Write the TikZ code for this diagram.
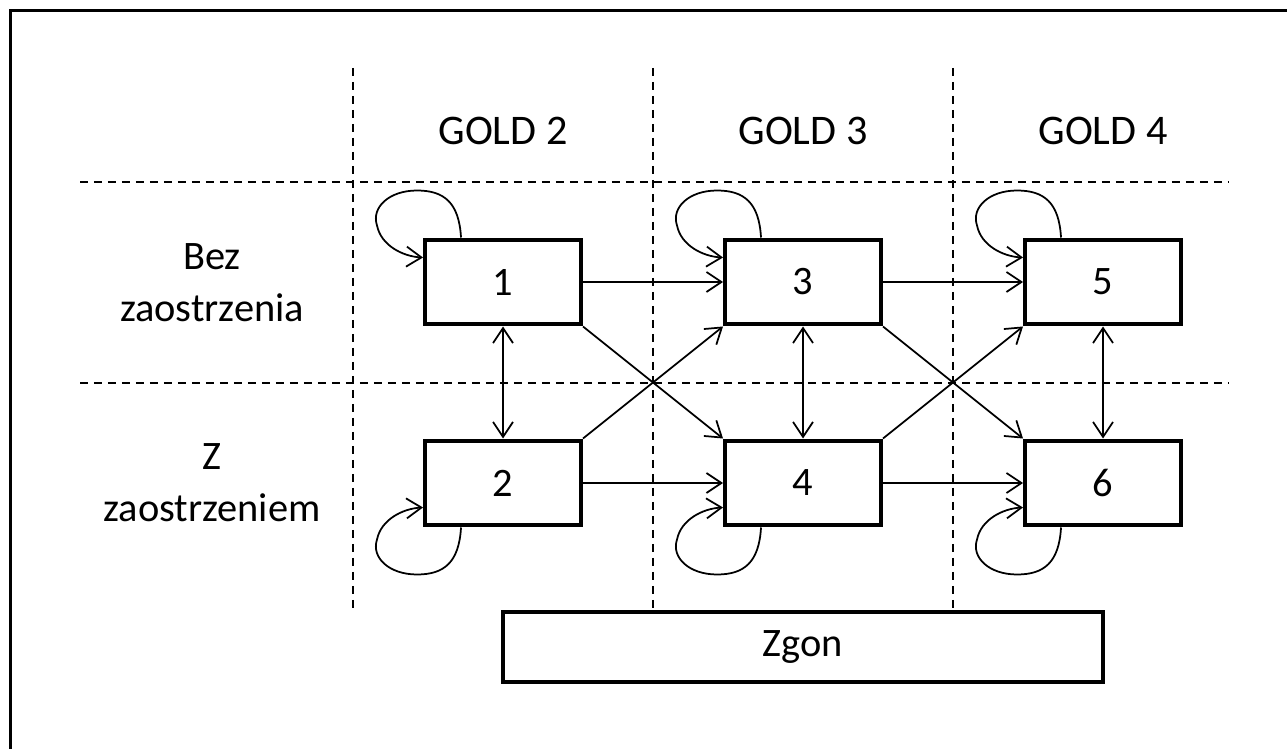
\documentclass[tikz,border=0pt]{standalone}
\usepackage{fontspec}
\setmainfont{Carlito}
\usetikzlibrary{arrows.meta}
\begin{document}
\begin{tikzpicture}[x=0.02cm,y=-0.02cm,
  state/.style={draw,line width=0.08cm,minimum width=3.12cm,minimum height=1.7cm,
    inner sep=0pt,font=\fontsize{23}{28}\selectfont},
  wide/.style={state,minimum width=12cm,minimum height=1.4cm},
  head/.style={anchor=base,font=\fontsize{24}{29}\selectfont},
  rowlab/.style={align=center,font=\fontsize{23}{29.5}\selectfont},
  grid/.style={dash pattern=on 0.16cm off 0.12cm,line width=0.04cm},
  conn/.style={line width=0.035cm,-{Straight Barb[length=0.3cm,width=0.4cm]}},
  both/.style={line width=0.035cm,{Straight Barb[length=0.3cm,width=0.4cm]}-{Straight Barb[length=0.3cm,width=0.4cm]}},
  frame/.style={line width=0.05cm}]
\useasboundingbox (0,0) rectangle (1287,749);

% open frame: top and left edges
\draw[frame] (10.5,749) -- (10.5,10.5) -- (1287,10.5);

% dashed grid
\draw[grid] (80,182) -- (1228,182);
\draw[grid] (80,383) -- (1228,383);
\foreach \gx in {353,653,953}
  \draw[grid] (\gx,68) -- (\gx,610);

% column headers
\node[head] (g2) at (503,145) {GOLD 2};
\node[head] (g3) at (803,145) {GOLD 3};
\node[head] (g4) at (1103,145) {GOLD 4};

% row labels
\node[rowlab] (r1) at (212,283) {Bez\\zaostrzenia};
\node[rowlab] (r2) at (212,483) {Z\\zaostrzeniem};

% states
\node[state] (n1) at (503,282) {1};
\node[state] (n2) at (503,483) {2};
\node[state] (n3) at (803,282) {3};
\node[state] (n4) at (803,483) {4};
\node[state] (n5) at (1103,282) {5};
\node[state] (n6) at (1103,483) {6};
\node[wide] (zg) at (803,647) {Zgon};

% transitions between columns
\foreach \a/\b in {n1/n3,n3/n5,n2/n4,n4/n6}
  \draw[conn] (\a.east) -- (\b.west);
\foreach \a/\b in {n1/n4,n3/n6}
  \draw[conn] (\a.south east) -- (\b.north west);
\foreach \a/\b in {n2/n3,n4/n5}
  \draw[conn] (\a.north east) -- (\b.south west);

% transitions within a column
\foreach \a/\b in {n1/n2,n3/n4,n5/n6}
  \draw[both] (\a.south) -- (\b.north);

% self loops: leave the top (bottom) edge, return into the left edge
\foreach \n/\s/\c in {n1/-1/north west,n3/-1/north west,n5/-1/north west,
                      n2/1/south west,n4/1/south west,n6/1/south west}
  \draw[conn] ([shift={(38,0)}]\n.\c)
    .. controls ([shift={(36,35*\s)}]\n.\c) and ([shift={(21,47*\s)}]\n.\c)
    .. ([shift={(-6,47*\s)}]\n.\c)
    .. controls ([shift={(-34,47*\s)}]\n.\c) and ([shift={(-52,30*\s)}]\n.\c)
    .. ([shift={(-46,12*\s)}]\n.\c)
    .. controls ([shift={(-42,-8*\s)}]\n.\c) and ([shift={(-20,-19*\s)}]\n.\c)
    .. ([shift={(0,-20*\s)}]\n.\c);
\end{tikzpicture}
\end{document}
